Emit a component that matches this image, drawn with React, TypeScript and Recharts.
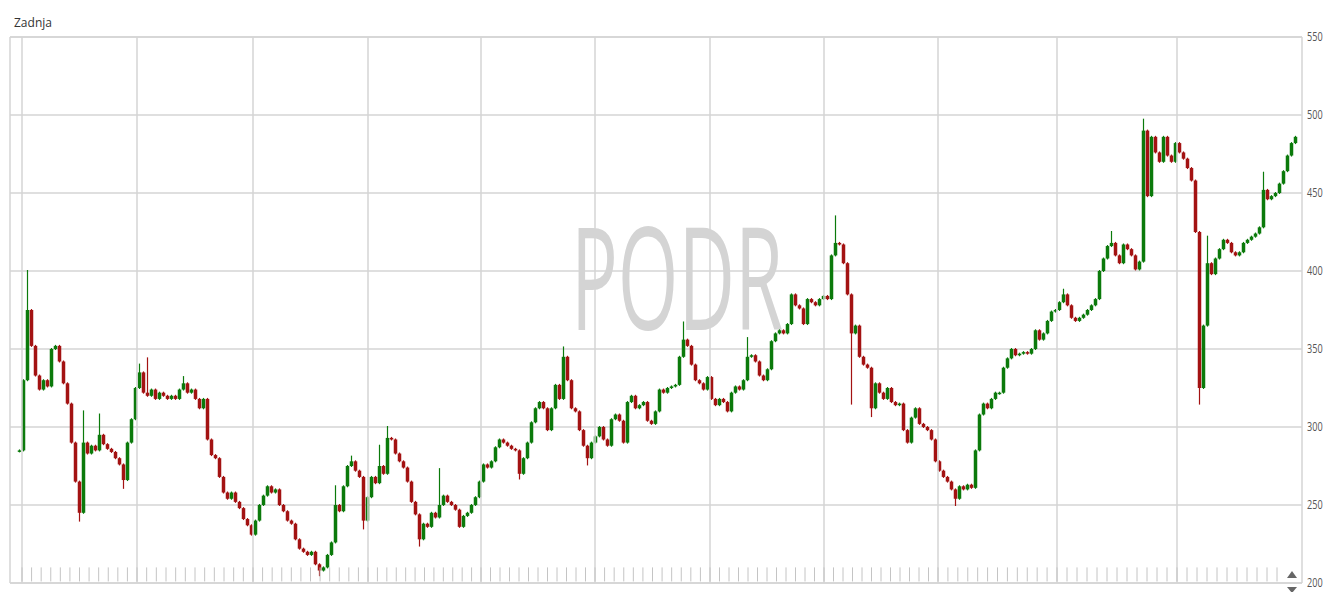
import React from 'react'
import { ComposedChart, Bar, XAxis, YAxis, CartesianGrid, ReferenceLine } from 'recharts'

// daily closes, one every 4px
const closes = [
  285, 330, 375, 352, 333, 324, 330, 326, 350, 352,
  342, 328, 315, 290, 265, 245, 290, 283, 288, 285,
  295, 289, 286, 284, 280, 276, 266, 290, 305, 325,
  335, 322, 320, 324, 318, 322, 320, 318, 320, 318,
  324, 328, 322, 324, 318, 312, 318, 292, 282, 280,
  268, 258, 254, 258, 252, 248, 241, 237, 231, 240,
  250, 256, 262, 258, 260,
  250, 246, 240, 238, 228, 222, 220, 218, 220, 212,
  208, 210, 218, 226, 250, 246, 262, 275, 278, 272,
  268, 240, 255, 268, 264, 275, 270, 293, 292, 283,
  278, 274, 265, 252, 244, 228, 238, 236, 245, 242,
  250, 256, 252, 250, 247, 236, 243, 245, 250, 255,
  265, 276, 274, 278, 287, 292, 290, 288, 286, 285,
  270, 280, 290, 303, 312, 316,
  312, 298, 312, 327, 318, 345, 330, 312, 310, 298,
  288, 280, 290, 294, 300, 292, 288, 305, 308, 304,
  290, 316, 320, 312, 314, 316, 304, 302, 310, 324,
  322, 325, 326, 327, 345, 356, 352, 340, 330, 328,
  324, 332, 318, 314, 318, 316, 310, 322, 326, 324,
  330, 345, 346, 342, 333, 330, 337, 355, 360, 362,
  360, 366, 385, 378,
  376, 366, 382, 380, 378, 382, 384, 382, 410, 418,
  417, 405, 385, 360, 365, 345, 340, 338, 312, 328,
  322, 318, 325, 316, 314, 315, 298, 290, 306, 312,
  302, 300, 298, 292, 278, 272, 268, 265, 260, 254,
  262, 260, 263, 261, 285, 308, 315, 312, 318, 322,
  322, 338, 344, 350, 346, 347, 348, 347, 350, 362,
  356, 360, 368, 374, 375, 380, 385, 378, 370, 368,
  370, 372, 375, 378, 382, 400, 408, 416, 418, 410,
  405,
  417, 414, 410, 401, 406, 490, 448, 486, 476, 470,
  486, 474, 470, 482, 476, 472, 466, 458, 425, 325,
  365, 405, 398, 408, 414, 420, 418, 412, 410, 412,
  418, 420, 422, 424, 428, 452, 446, 448, 450, 456,
  464, 474, 482, 486,
]

// intraday extremes that stick out of the line
const spikes: { i: number; low?: number; high?: number }[] = [
  { i: 2, high: 400 }, { i: 15, low: 240 }, { i: 16, high: 310 }, { i: 20, high: 308 },
  { i: 26, low: 261 }, { i: 30, high: 340 }, { i: 32, high: 344 }, { i: 41, high: 332 },
  { i: 75, low: 205 }, { i: 79, high: 262 }, { i: 83, high: 281 }, { i: 86, low: 235 },
  { i: 90, high: 288 }, { i: 92, high: 300 }, { i: 100, low: 224 }, { i: 105, high: 273 },
  { i: 125, low: 267 }, { i: 136, high: 351 }, { i: 142, low: 276 }, { i: 166, high: 367 },
  { i: 182, high: 357 }, { i: 204, high: 435 }, { i: 208, low: 315 }, { i: 213, low: 307 },
  { i: 234, low: 250 }, { i: 261, high: 388 }, { i: 273, high: 425 }, { i: 281, high: 497 },
  { i: 295, low: 315 }, { i: 297, high: 422 }, { i: 311, high: 463 },
]

// year boundaries, in bar index units
const yearStarts = [0.5, 29.25, 58.25, 87, 115.25, 143.75, 172.5, 201, 229.5, 259.25, 289.25]
const priceTicks = [200, 250, 300, 350, 400, 450, 500, 550]

const GREEN = '#0b7a0b'
const RED = '#a31212'
const GRID = '#d5d5d5'

const spikeMap = new Map(spikes.map(s => [s.i, s]))

const data = closes.map((close, i) => {
  const open = i === 0 ? close : closes[i - 1]
  const s = spikeMap.get(i)
  const low = Math.min(open, close, s?.low ?? Infinity)
  const high = Math.max(open, close, s?.high ?? -Infinity)
  return { i, open, close, low, high, range: [low, high] }
})

// month ticks between the year lines
const monthTicks: number[] = []
for (let k = 0; k < yearStarts.length - 1; k++) {
  const step = (yearStarts[k + 1] - yearStarts[k]) / 12
  for (let m = 0; m < 12; m++) monthTicks.push(yearStarts[k] + m * step)
}
{
  const last = yearStarts[yearStarts.length - 1]
  for (let t = last; t < 316; t += 2.5) monthTicks.push(t)
}

const Candle = (props: any) => {
  const { x, y, width, height, payload } = props
  if (x == null || !payload) return null
  const top = Math.min(y, y + height)
  const h = Math.abs(height)
  const span = payload.high - payload.low
  const pp = span > 0 ? h / span : 0
  const cx = x + width / 2
  const color = payload.close >= payload.open ? GREEN : RED
  const bTop = top + (payload.high - Math.max(payload.open, payload.close)) * pp
  const bH = Math.max(1.5, Math.abs(payload.close - payload.open) * pp)
  return (
    <g>
      <line x1={cx} x2={cx} y1={top - 1} y2={top + Math.max(h, 1) + 1} stroke={color} strokeWidth={1.2} />
      <rect x={cx - 1.75} y={bTop} width={3.5} height={bH} fill={color} />
    </g>
  )
}

const PriceTick = (props: any) => {
  const { x, y, payload } = props
  return (
    <g transform={`translate(${x - 1},${y + 4}) scale(0.7,1)`}>
      <text x={0} y={0} fontFamily="Open Sans" fontSize={13} fill="#555">
        {payload.value}
      </text>
    </g>
  )
}

export default function App() {
  return (
    <div style={{ position: 'absolute', left: 0, top: 0, width: 1325, height: 592, background: '#fff', overflow: 'hidden' }}>
      <svg width={1325} height={592} style={{ position: 'absolute', left: 0, top: 0 }}>
        <text
          x={571}
          y={330}
          fontFamily="Open Sans"
          fontSize={142}
          fill="#d4d4d4"
          textLength={212}
          lengthAdjust="spacingAndGlyphs"
        >
          PODR
        </text>
      </svg>
      <div style={{ position: 'absolute', left: 0, top: 0 }}>
        <ComposedChart width={1325} height={592} data={data} margin={{ top: 37, right: 0, bottom: 9, left: 10 }}>
          <CartesianGrid vertical={false} stroke={GRID} strokeWidth={1.5} />
          <XAxis type="number" dataKey="i" domain={[-2.5, 320.5]} allowDataOverflow hide />
          <YAxis
            orientation="right"
            width={23}
            domain={[200, 550]}
            ticks={priceTicks}
            allowDataOverflow
            axisLine={false}
            tickLine={false}
            tickSize={0}
            tickMargin={6}
            tick={<PriceTick />}
          />
          <ReferenceLine y={550} stroke={GRID} strokeWidth={1.5} />
          <ReferenceLine y={200} stroke={GRID} strokeWidth={1.5} />
          <ReferenceLine x={-2.5} stroke={GRID} strokeWidth={1.5} />
          <ReferenceLine x={320.5} stroke={GRID} strokeWidth={1.5} />
          {yearStarts.map(v => (
            <ReferenceLine key={'y' + v} x={v} stroke={GRID} strokeWidth={1.5} />
          ))}
          {monthTicks.map(t => (
            <ReferenceLine
              key={'m' + t}
              segment={[{ x: t, y: 201 }, { x: t, y: 210 }]}
              stroke="#c4c4c4"
              strokeWidth={1}
            />
          ))}
          <Bar dataKey="range" barSize={3} shape={Candle} isAnimationActive={false} />
        </ComposedChart>
      </div>
      <svg width={1325} height={592} style={{ position: 'absolute', left: 0, top: 0, pointerEvents: 'none' }}>
        <text x={14} y={27} fontFamily="Open Sans" fontSize={12} fill="#333">Zadnja</text>
        <polygon points="1287,578 1297,578 1292,571" fill="#666" />
        <polygon points="1287,587 1297,587 1292,593" fill="#666" />
      </svg>
    </div>
  )
}
